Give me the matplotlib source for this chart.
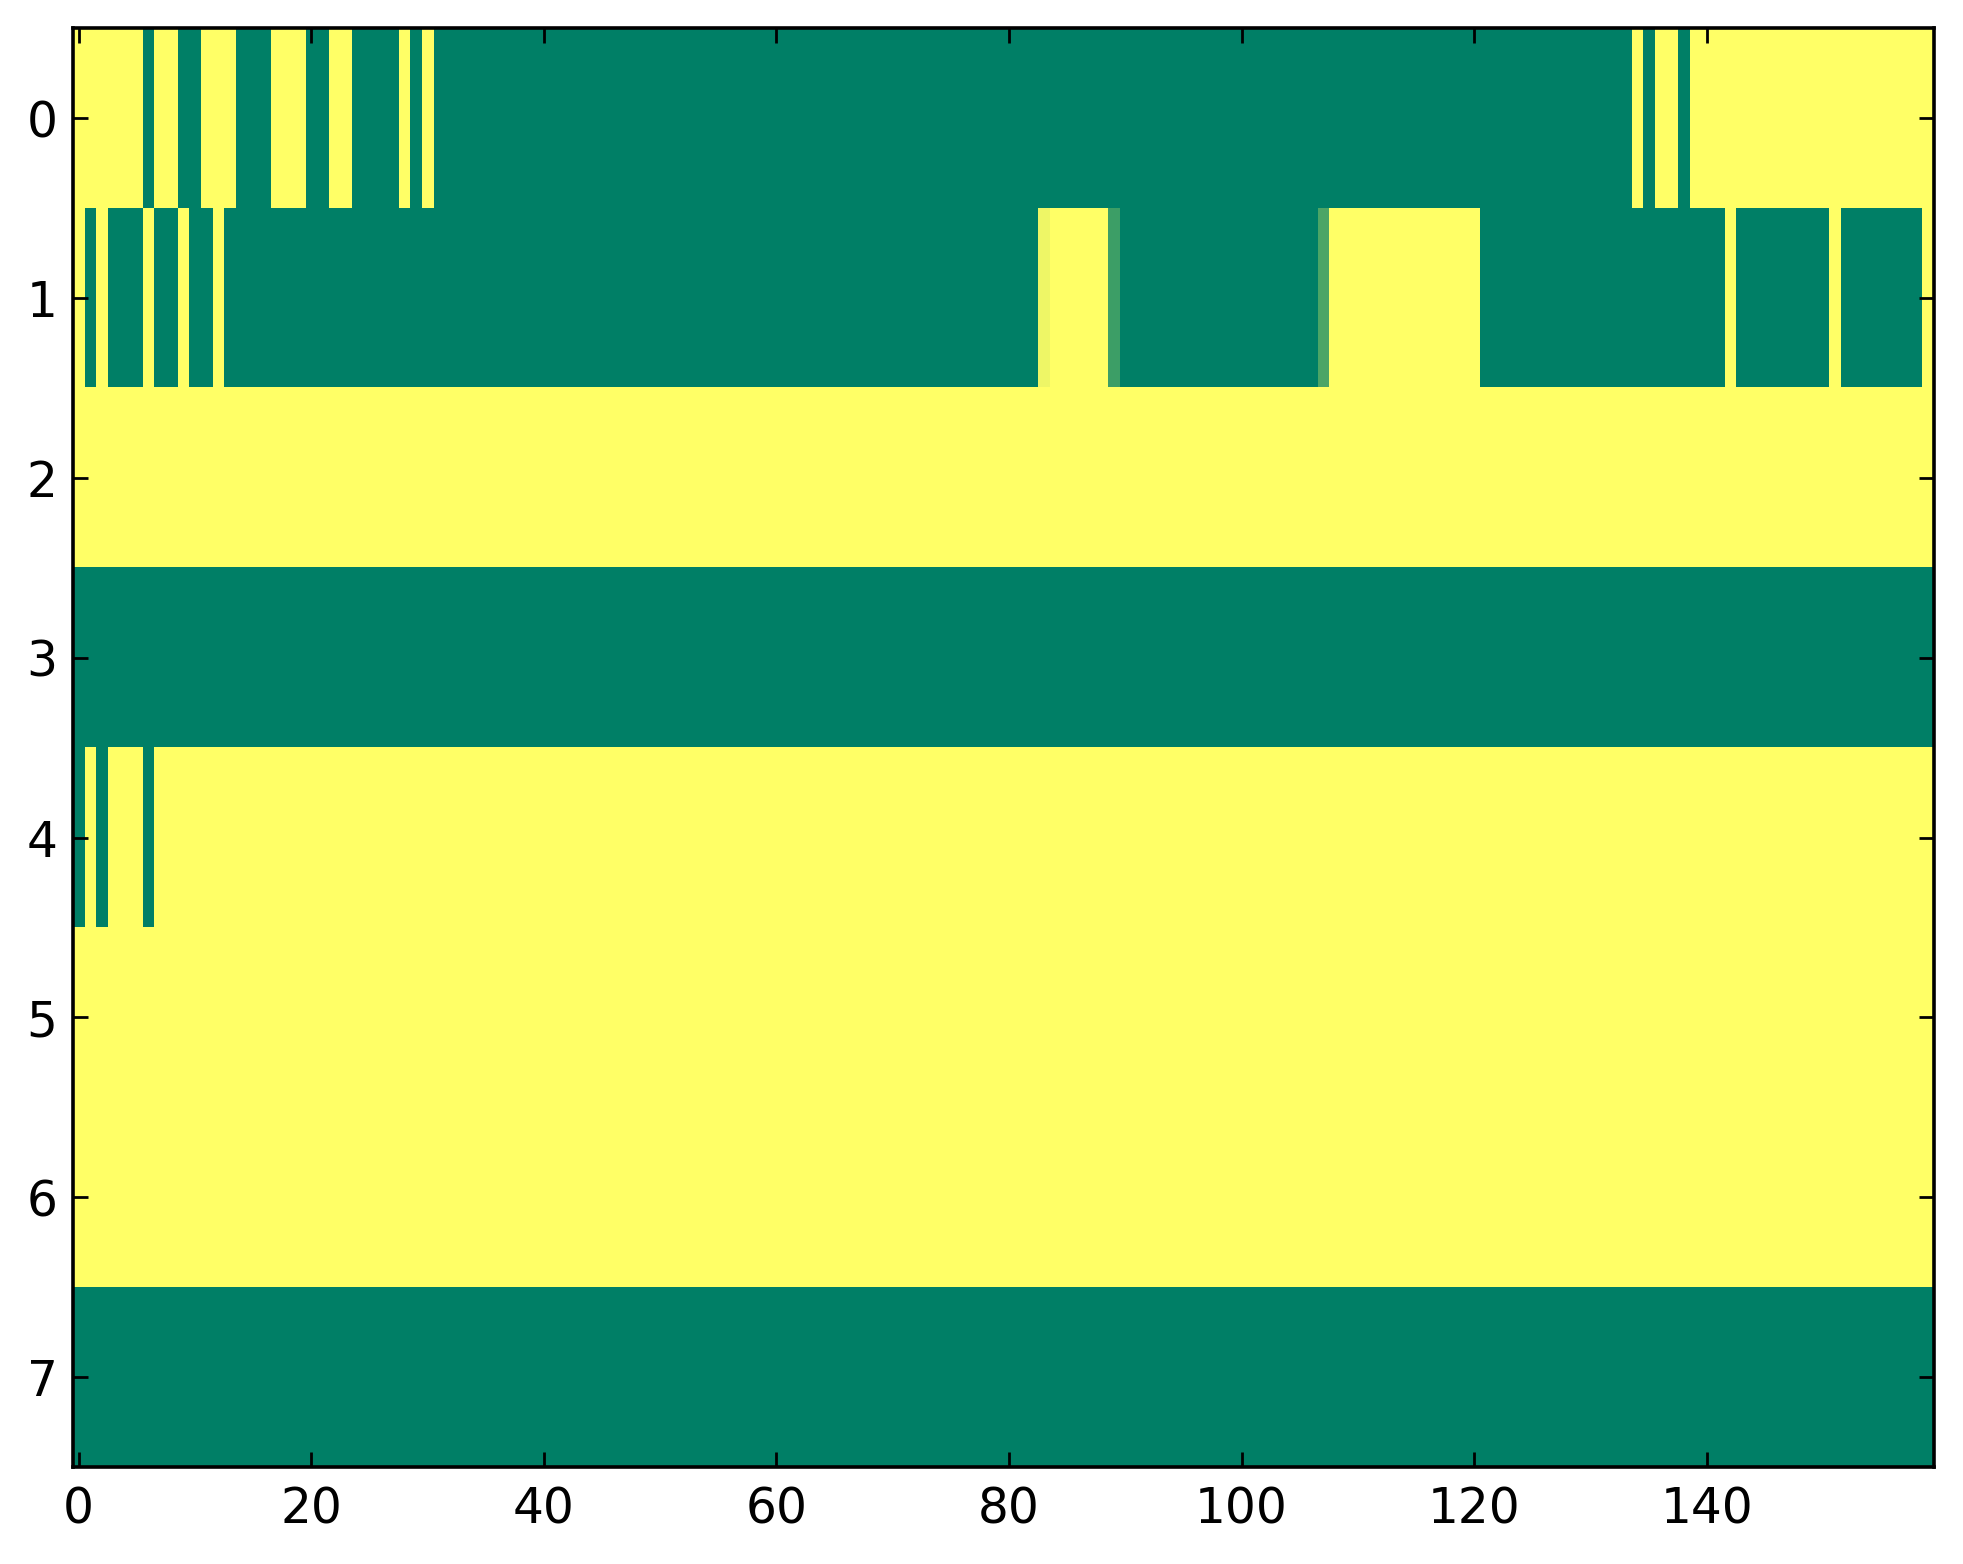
import numpy as np
import matplotlib
matplotlib.use('Agg')
import matplotlib.pyplot as plt

# 每行的取值 (1 = 黄, 0 = 绿), 共160列
row0 = ('111111' '0' '11' '00' '111' '000' '111' '00' '11' '0000' '1' '0' '1'
        + '0' * 103 + '1' '0' '11' '0' + '1' * 21)
row1 = ('1' '0' '1' '000' '1' '00' '1' '00' '1' + '0' * 70 + '1' * 6
        + '0' * 19 + '1' * 13 + '0' * 21 + '1' + '0' * 8 + '1' + '0' * 7 + '1')
row2 = '1' * 160
row3 = '0' * 160
row4 = '0' '1' '0' '111' '0' + '1' * 153
row5 = '1' * 160
row6 = '1' * 160
row7 = '0' * 160

# 第1行中几个中间值
row1_partial = {83: 0.93, 89: 0.24, 107: 0.30}

rows = [row0, row1, row2, row3, row4, row5, row6, row7]
data = np.array([[float(c) for c in r] for r in rows])
for col, v in row1_partial.items():
    data[1, col] = v

plt.rcParams['font.family'] = ['DejaVu Sans']

fig = plt.figure(figsize=(9.815, 7.82), dpi=200)
ax = fig.add_axes([0.0371, 0.062, 0.9479, 0.920])
ax.imshow(data, cmap='summer', vmin=0, vmax=1, aspect='auto',
          interpolation='nearest')

ax.set_xticks(np.arange(0, 160, 20))
ax.set_yticks(np.arange(0, 8))
ax.tick_params(direction='in', length=5.4, width=1.0, labelsize=17.5,
               top=True, right=True)
ax.tick_params(axis='y', pad=5.5)
ax.tick_params(axis='x', pad=6.5)
for s in ax.spines.values():
    s.set_linewidth(1.3)

fig.savefig('out.png', dpi=200)
